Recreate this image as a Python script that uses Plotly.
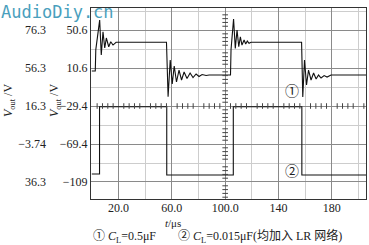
import numpy as np
import plotly.graph_objects as go

# ---------------- data ----------------
# trace 1 (C = 0.5 uF), time in us, value on inner axis scale
t1 = [0, 2.6, 3.0, 5.9, 7.1, 8.4, 9.7, 10.9, 12.7, 14.2, 15.9, 18.2,
      56.0, 57.2, 58.8, 60.3, 61.8, 63.5, 65.4, 67.3, 69.2, 71.4, 73.7, 75.9, 78.2, 80.4, 82.7, 85.7, 88.0,
      104.0, 104.4, 106.3, 107.6, 108.9, 110.2, 111.4, 112.6, 114.2, 115.4, 116.6, 117.9, 119.4,
      157.3, 158.2, 159.5, 161.0, 162.5, 164.4, 166.3, 168.2, 170.0, 171.9, 174.2, 176.4, 179.4, 205.6]
v1 = [7.4, 7.4, 30.0, 61.1, 24.3, 48.8, 31.7, 42.2, 33.0, 38.3, 34.8, 37.7,
      37.7, -19.6, 19.0, -6.2, 12.7, -4.1, 8.5, -2.0, 6.4, -0.4, 5.3, 0.6, 4.3, 1.7, 3.8, 2.7, 3.2,
      3.2, 30.0, 62.2, 31.3, 50.6, 33.0, 43.5, 34.8, 40.1, 35.9, 39.0, 36.6, 37.7,
      37.7, -19.9, 19.0, -7.3, 8.5, -2.0, 5.3, -1.0, 3.2, 0.1, 2.7, 1.1, 3.2, 3.2]

# trace 2 (C = 0.015 uF)
t2 = [0, 5.8, 5.8, 56.2, 56.2, 106.1, 106.1, 157.5, 157.5, 205.6]
v2 = [-101.0, -101.0, -30.1, -30.1, -102.0, -102.0, -30.1, -30.1, -102.0, -102.0]

x_ticks = [20, 60, 100, 140, 180]
x_labels = ["20.0", "60.0", "100.0", "140", "180"]
x_minor = [0, 40, 80, 120, 160, 200]

y_ticks = [50.6, 10.6, -29.4, -69.4, -109]
y_labels_inner = ["50.6", "10.6", "\u221229.4", "\u221269.4", "\u2212109"]
y_labels_outer = ["76.3", "56.3", "16.3", "\u22123.74", "36.3"]
y_minor = [70.6, 30.6, -9.4, -49.4, -89.4, -129.4]

# ---------------- geometry helpers (layout only) ----------------
W, H = 369, 245
ML, MR, MT, MB = 0, 3, 8, 46
PW = W - ML - MR
PH = H - MT - MB


def px(xp):
    return (xp - ML) / PW


def py(yp):
    return (H - MB - yp) / PH


XR = [-0.6, 205.6]
YR = [-127.3, 73.8]
SERIF = "Liberation Serif, Times New Roman, serif"
MIXED = "Liberation Serif, Noto Sans CJK SC, serif"

fig = go.Figure()

fig.add_trace(go.Scatter(x=t1, y=v1, mode="lines", line=dict(color="#111", width=1.1),
                         showlegend=False, hoverinfo="skip"))
fig.add_trace(go.Scatter(x=t2, y=v2, mode="lines", line=dict(color="#111", width=1.1),
                         showlegend=False, hoverinfo="skip"))

# oscilloscope centre-line graticule ticks
ht = [t for t in np.arange(0, 206, 4) if t % 20 != 0]
fig.add_trace(go.Scatter(x=ht, y=[-29.4] * len(ht), mode="markers",
                         marker=dict(symbol="line-ns", size=4, line=dict(color="#444", width=1)),
                         showlegend=False, hoverinfo="skip"))
vt = [v for v in np.arange(-129.4, 74, 4) if abs(((v + 29.4) / 20) - round((v + 29.4) / 20)) > 1e-6]
fig.add_trace(go.Scatter(x=[100] * len(vt), y=vt, mode="markers",
                         marker=dict(symbol="line-ew", size=4, line=dict(color="#444", width=1)),
                         showlegend=False, hoverinfo="skip"))
# dummy trace for the outer axis
fig.add_trace(go.Scatter(x=[None], y=[None], yaxis="y2", showlegend=False, hoverinfo="skip"))

fig.update_layout(
    width=W, height=H, template="none",
    margin=dict(l=ML, r=MR, t=MT, b=MB, pad=0),
    paper_bgcolor="white", plot_bgcolor="white",
    font=dict(family=SERIF, size=12, color="#222"),
    xaxis=dict(domain=[px(91), 1], range=XR, tickmode="array", tickvals=x_ticks, ticktext=x_labels,
               showgrid=True, gridcolor="#8a8a8a", gridwidth=1, zeroline=False,
               showline=True, linecolor="#333", linewidth=1, mirror=True, ticks="",
               ticklabelstandoff=-2,
               tickfont=dict(family=SERIF, size=12, color="#222"), automargin=False,
               minor=dict(tickmode="array", tickvals=x_minor, showgrid=True, gridcolor="#cdcdcd", gridwidth=1)),
    yaxis=dict(range=YR, tickmode="array", tickvals=y_ticks, ticktext=y_labels_inner,
               showgrid=True, gridcolor="#8a8a8a", gridwidth=1, zeroline=False,
               showline=True, linecolor="#333", linewidth=1, mirror=True, ticks="",
               tickfont=dict(family=SERIF, size=12, color="#222"), automargin=False,
               minor=dict(tickmode="array", tickvals=y_minor, showgrid=True, gridcolor="#cdcdcd", gridwidth=1)),
    yaxis2=dict(range=YR, overlaying="y", anchor="free", position=px(46), side="left",
                tickmode="array", tickvals=y_ticks, ticktext=y_labels_outer,
                showgrid=False, zeroline=False, showline=False, ticks="",
                tickfont=dict(family=SERIF, size=12, color="#222"), automargin=False),
)

ann = []
ann.append(dict(text="AudioDiy.cn", xref="paper", yref="paper", x=px(-1), y=py(0), xanchor="left",
                yanchor="top", showarrow=False,
                font=dict(family="DejaVu Sans Mono", size=17, color="#4a9fbd")))
for xp in (9, 55):
    ann.append(dict(text="<i>V</i><sub>out</sub> /V", xref="paper", yref="paper", x=px(xp), y=py(101),
                    xanchor="center", yanchor="middle", textangle=-90, showarrow=False,
                    font=dict(family=SERIF, size=12, color="#222")))
ann.append(dict(text="<i>t</i>/\u03bcs", xref="paper", yref="paper", x=px(173), y=py(223),
                xanchor="center", yanchor="middle", showarrow=False,
                font=dict(family=SERIF, size=11, color="#222")))
ann.append(dict(text="\u2460 <i>C</i><sub>L</sub>=0.5\u03bcF", xref="paper", yref="paper", x=px(91),
                y=py(237), xanchor="left", yanchor="middle", showarrow=False,
                font=dict(family=MIXED, size=12, color="#222")))
ann.append(dict(text="\u2461 <i>C</i><sub>L</sub>=0.015\u03bcF(均加入 LR 网络)", xref="paper", yref="paper",
                x=px(176), y=py(237), xanchor="left", yanchor="middle", showarrow=False,
                font=dict(family=MIXED, size=12, color="#222")))
ann.append(dict(text="\u2460", xref="x", yref="y", x=149.9, y=-12.6, showarrow=False,
                font=dict(family="Noto Sans CJK SC", size=14, color="#222")))
ann.append(dict(text="\u2461", xref="x", yref="y", x=149.9, y=-96.8, showarrow=False,
                font=dict(family="Noto Sans CJK SC", size=14, color="#222")))
fig.update_layout(annotations=ann)

fig.write_html("out.html")
